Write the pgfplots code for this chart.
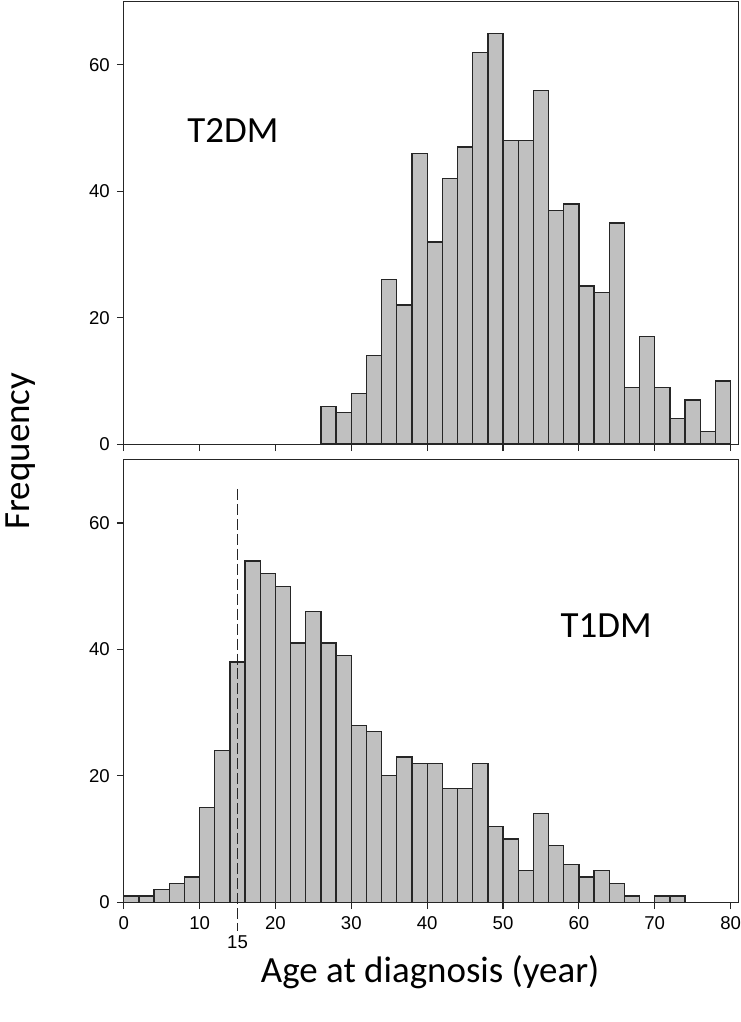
\documentclass[border=0pt]{standalone}
\usepackage{fontspec}
\setmainfont{Liberation Sans}
\newfontfamily\calfont{Carlito}
\usepackage{pgfplots}
\pgfplotsset{compat=1.18}
\definecolor{barfill}{HTML}{C0C0C0}
\definecolor{edge}{HTML}{262626}

\pgfplotsset{
  histo/.style={
    x=3.8pt, y=3.1667pt,
    xmin=0, xmax=81, ymin=0, ymax=70,
    axis line style={line width=0.6pt, edge},
    tick align=outside,
    xtick pos=left, ytick pos=left,
    xtick={0,10,...,80}, ytick={0,20,40,60},
    major tick length=3.5pt,
    tick style={line width=0.6pt, edge},
    ticklabel style={font=\fontsize{9.3}{10}\selectfont},
    /pgf/number format/assume math mode=true,
    clip=false,
  },
  bars/.style={ybar interval, fill=barfill, draw=edge, line width=0.65pt},
}

\begin{document}
\begin{tikzpicture}
\path[use as bounding box] (-62pt,-60pt) rectangle (309pt,452pt);

% T2DM
\begin{axis}[histo, at={(0,229.5pt)}, anchor=south west, xticklabels={}]
\addplot[bars] coordinates {
  (26,6) (28,5) (30,8) (32,14) (34,26) (36,22) (38,46) (40,32) (42,42)
  (44,47) (46,62) (48,65) (50,48) (52,48) (54,56) (56,37) (58,38) (60,25)
  (62,24) (64,35) (66,9) (68,17) (70,9) (72,4) (74,7) (76,2) (78,10) (80,0)
};
\node[font=\calfont\fontsize{18.5}{20}\selectfont] at (axis cs:14.4,49.6) {T2DM};
\end{axis}

% T1DM
\begin{axis}[histo, at={(0,0)}, anchor=south west]
\addplot[bars] coordinates {
  (0,1) (2,1) (4,2) (6,3) (8,4) (10,15) (12,24) (14,38) (16,54) (18,52)
  (20,50) (22,41) (24,46) (26,41) (28,39) (30,28) (32,27) (34,20) (36,23)
  (38,22) (40,22) (42,18) (44,18) (46,22) (48,12) (50,10) (52,5) (54,14)
  (56,9) (58,6) (60,4) (62,5) (64,3) (66,1) (68,0) (70,1) (72,1) (74,0)
};
\addplot[edge, line width=0.8pt, dash pattern=on 5.5pt off 2pt] coordinates {(15,65.4) (15,-4.5)};
\node[font=\fontsize{9.3}{10}\selectfont] at (axis cs:15,-6.3) {15};
\node[font=\calfont\fontsize{18.5}{20}\selectfont] at (axis cs:63.6,43.7) {T1DM};
\end{axis}

\node[rotate=90, font=\calfont\fontsize{18.5}{20}\selectfont, inner sep=0pt] at (-51.5pt,226pt) {Frequency};
\node[font=\calfont\fontsize{18.5}{20}\selectfont] at (153.5pt,-35pt) {Age at diagnosis (year)};
\end{tikzpicture}
\end{document}
